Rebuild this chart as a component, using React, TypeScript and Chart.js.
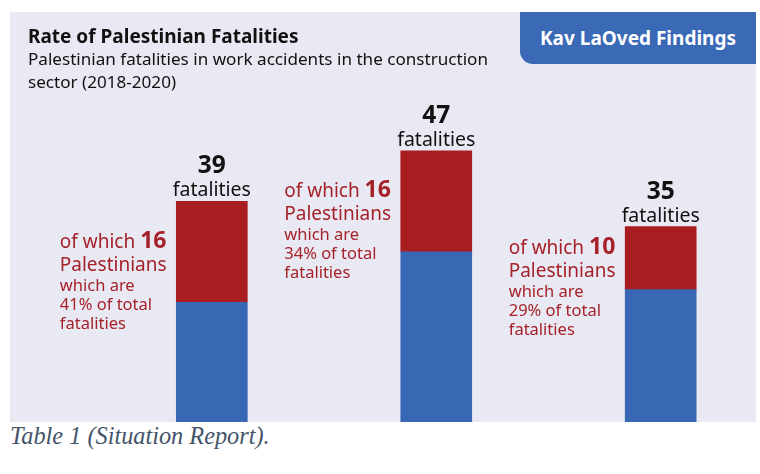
import React, { useEffect, useRef } from 'react';
import { Chart, registerables } from 'chart.js';

Chart.register(...registerables);

// ---- data ----
const years = ['2018', '2019', '2020'];
const totalFatalities = [39, 47, 35];
const palestinianFatalities = [16, 16, 10];
const otherFatalities = [23, 31, 25];
const palestinianShare = ['41%', '34%', '29%'];

const titleText = 'Rate of Palestinian Fatalities';
const subtitleLine1 = 'Palestinian fatalities in work accidents in the construction';
const subtitleLine2 = 'sector (2018-2020)';
const badgeText = 'Kav LaOved Findings';
const captionText = 'Table 1 (Situation Report).';

const BLUE = '#3868b4';
const RED = '#a81d1f';
const RED_TEXT = '#a6222a';
const PANEL_BG = '#e9e9f3';
const FONT = '"Noto Sans", "Open Sans", sans-serif';

const labelPlugin = {
  id: 'barLabels',
  afterDatasetsDraw(chart: any) {
    const ctx = chart.ctx as CanvasRenderingContext2D;
    const redBars = chart.getDatasetMeta(1).data;
    ctx.save();
    ctx.textBaseline = 'alphabetic';
    redBars.forEach((bar: any, i: number) => {
      const { x, y, base } = bar.getProps(['x', 'y', 'base'], true);
      // totals above the bar
      ctx.textAlign = 'center';
      ctx.fillStyle = '#111111';
      ctx.font = `bold 24.5px ${FONT}`;
      ctx.fillText(String(totalFatalities[i]), x, y - 28);
      ctx.font = `19.5px ${FONT}`;
      ctx.fillText('fatalities', x, y - 5);

      // red note left of the bar
      const left = x - 152;
      const b0 = (y + base) / 2 - 4;
      ctx.textAlign = 'left';
      ctx.fillStyle = RED_TEXT;
      ctx.font = `19px ${FONT}`;
      const pre = 'of which ';
      ctx.fillText(pre, left, b0);
      const w = ctx.measureText(pre).width;
      ctx.font = `bold 23px ${FONT}`;
      ctx.fillText(String(palestinianFatalities[i]), left + w, b0);
      ctx.font = `19px ${FONT}`;
      ctx.fillText('Palestinians', left, b0 + 23);
      ctx.font = `16.5px ${FONT}`;
      ctx.fillText('which are', left, b0 + 43);
      ctx.fillText(`${palestinianShare[i]} of total`, left, b0 + 62);
      ctx.fillText('fatalities', left, b0 + 81);
    });
    ctx.restore();
  },
};

export default function App() {
  const canvasRef = useRef<HTMLCanvasElement | null>(null);

  useEffect(() => {
    if (!canvasRef.current) return;
    const chart = new Chart(canvasRef.current, {
      type: 'bar',
      data: {
        labels: years,
        datasets: [
          {
            label: 'Other fatalities',
            data: otherFatalities,
            backgroundColor: BLUE,
            borderWidth: 0,
            barThickness: 71,
            clip: false,
          },
          {
            label: 'Palestinian fatalities',
            data: palestinianFatalities,
            backgroundColor: RED,
            borderWidth: 0,
            barThickness: 71,
            clip: false,
          },
        ],
      },
      options: {
        animation: false,
        responsive: false,
        maintainAspectRatio: false,
        layout: { padding: { left: 201.8, right: 95.3, top: 57, bottom: 0 } },
        plugins: {
          legend: { display: false },
          tooltip: { enabled: false },
          title: { display: false },
        },
        scales: {
          x: {
            type: 'category',
            display: false,
            stacked: true,
            offset: false,
            grid: { offset: false },
          },
          y: {
            display: false,
            stacked: true,
            min: 4,
            max: 60,
          },
        },
      },
      plugins: [labelPlugin],
    });
    return () => chart.destroy();
  }, []);

  return (
    <div
      style={{
        position: 'fixed',
        left: 0,
        top: 0,
        width: 760,
        height: 474,
        background: '#ffffff',
        overflow: 'hidden',
      }}
    >
      <div
        style={{
          position: 'absolute',
          left: 10,
          top: 12,
          width: 746,
          height: 410,
          background: PANEL_BG,
          overflow: 'hidden',
        }}
      >
        <canvas
          ref={canvasRef}
          width={746}
          height={410}
          style={{ position: 'absolute', left: 0, top: 0, width: 746, height: 410 }}
        />
        <div
          style={{
            position: 'absolute',
            left: 18,
            top: 11.9,
            fontFamily: FONT,
            fontWeight: 700,
            fontSize: 19,
            lineHeight: '24px',
            color: '#111111',
            whiteSpace: 'nowrap',
          }}
        >
          {titleText}
        </div>
        <div
          style={{
            position: 'absolute',
            left: 18,
            top: 34.9,
            fontFamily: FONT,
            fontSize: 17.1,
            lineHeight: '23px',
            color: '#111111',
            whiteSpace: 'nowrap',
          }}
        >
          {subtitleLine1}
          <br />
          {subtitleLine2}
        </div>
        <div
          style={{
            position: 'absolute',
            left: 510,
            top: 0,
            width: 236,
            height: 52,
            background: '#3a69b5',
            borderBottomLeftRadius: 13,
            color: '#ffffff',
            fontFamily: FONT,
            fontWeight: 700,
            fontSize: 19,
            lineHeight: '52px',
            textAlign: 'center',
            whiteSpace: 'nowrap',
          }}
        >
          {badgeText}
        </div>
      </div>
      <div
        style={{
          position: 'absolute',
          left: 10,
          top: 422,
          fontFamily: '"Liberation Serif", "Times New Roman", serif',
          fontStyle: 'italic',
          fontSize: 24.3,
          lineHeight: '28px',
          color: '#44546a',
          whiteSpace: 'nowrap',
        }}
      >
        {captionText}
      </div>
    </div>
  );
}
